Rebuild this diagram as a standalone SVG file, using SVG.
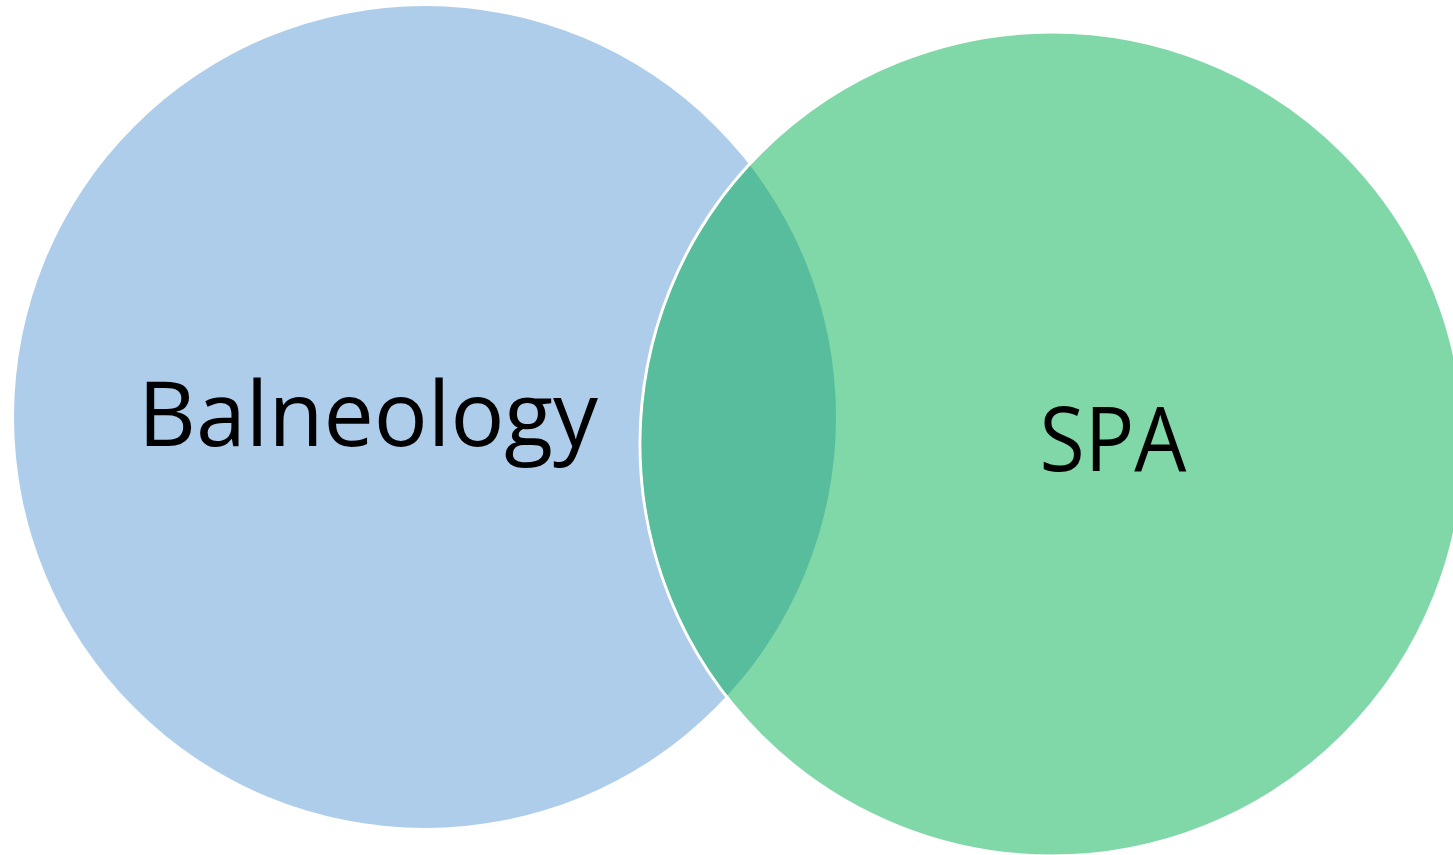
<svg xmlns="http://www.w3.org/2000/svg" width="1453" height="855" viewBox="0 0 1453 855">
<style>
.lbl{font-family:"Open Sans","Noto Sans","Liberation Sans",sans-serif;font-size:90px;fill:#000;text-anchor:middle}
</style>
<defs>
<clipPath id="clipA"><circle cx="425" cy="417" r="411"/></clipPath>
</defs>
<rect width="1453" height="855" fill="#fff"/>
<g id="balneology">
<circle cx="425" cy="417" r="411" fill="#AECDEA"/>
</g>
<g id="spa">
<circle cx="1052" cy="444" r="412" fill="#80D8A8" stroke="#fff" stroke-width="3"/>
</g>
<g id="overlap">
<circle cx="1052" cy="444" r="410.5" fill="#57BD9C" clip-path="url(#clipA)"/>
</g>
<g id="labels">
<text class="lbl" x="368" y="446" textLength="460" lengthAdjust="spacingAndGlyphs">Balneology</text>
<text class="lbl" x="1113" y="471" textLength="147" lengthAdjust="spacingAndGlyphs">SPA</text>
</g>
</svg>
